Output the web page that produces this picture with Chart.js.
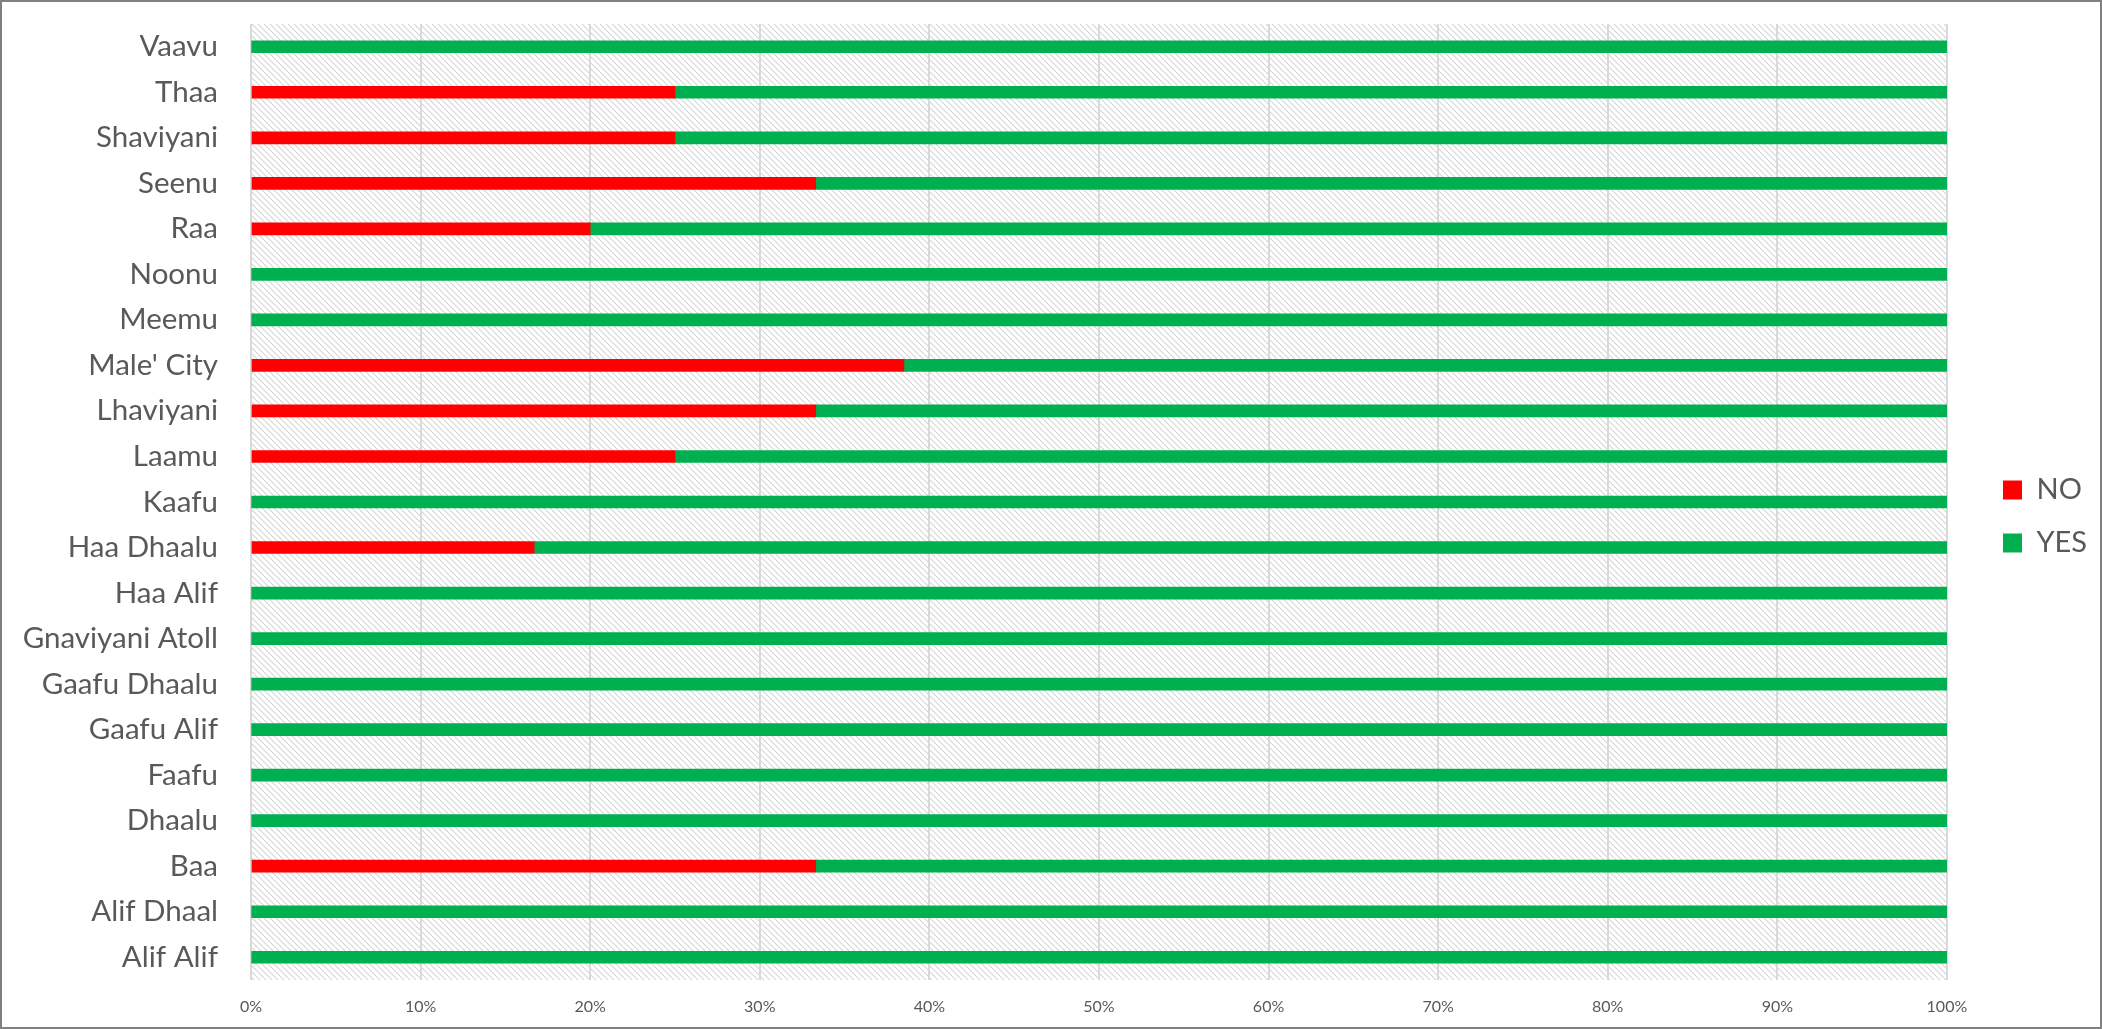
<!DOCTYPE html>
<html>
<head>
<meta charset="utf-8">
<script src="https://cdn.jsdelivr.net/npm/chart.js@4.4.1/dist/chart.umd.min.js"></script>
<style>
  html, body { margin: 0; padding: 0; background: #fff; }
  #wrap { width: 2102px; height: 1029px; }
</style>
</head>
<body>
<div id="wrap"><canvas id="atollChart"></canvas></div>
<script>
// listed bottom-to-top as in the sheet (axis is reversed below)
const atolls = ['Alif Alif', 'Alif Dhaal', 'Baa', 'Dhaalu', 'Faafu', 'Gaafu Alif', 'Gaafu Dhaalu',
  'Gnaviyani Atoll', 'Haa Alif', 'Haa Dhaalu', 'Kaafu', 'Laamu', 'Lhaviyani', "Male' City",
  'Meemu', 'Noonu', 'Raa', 'Seenu', 'Shaviyani', 'Thaa', 'Vaavu'];

const noShare  = [0, 0, 33.3, 0, 0, 0, 0, 0, 0, 16.7, 0, 25, 33.3, 38.5, 0, 0, 20, 33.3, 25, 25, 0];
const yesShare = [100, 100, 66.7, 100, 100, 100, 100, 100, 100, 83.3, 100, 75, 66.7, 61.5, 100, 100, 80, 66.7, 75, 75, 100];

const textGrey = '#595959';
const gridGrey = '#d9d9d9';

// where the legend swatches start (chart.js would put them closer to the plot)
const legendBoxX = 2003;
const legendShiftY = -10;

function hatchPattern(ctx) {
  const s = 6;
  const c = document.createElement('canvas');
  c.width = s; c.height = s;
  const p = c.getContext('2d');
  p.strokeStyle = '#d4d4d4';
  p.lineWidth = 1.1;
  p.beginPath();
  for (let k = -1; k <= 1; k++) {
    p.moveTo(k * s, 0);
    p.lineTo(k * s + s, s);
  }
  p.stroke();
  return ctx.createPattern(c, 'repeat');
}

const plotDecor = {
  id: 'plotDecor',
  beforeDraw(chart) {
    const {ctx, chartArea: a, width, height} = chart;
    ctx.save();
    ctx.fillStyle = '#fff';
    ctx.fillRect(0, 0, width, height);
    ctx.fillStyle = hatchPattern(ctx);
    ctx.fillRect(a.left, a.top, a.right - a.left, a.bottom - a.top);
    ctx.restore();
  },
  afterDraw(chart) {
    const {ctx, width, height} = chart;
    ctx.save();
    ctx.strokeStyle = '#808080';
    ctx.lineWidth = 2;
    ctx.strokeRect(1, 1, width - 2, height - 2);
    ctx.restore();
  }
};

const legendNudge = {
  id: 'legendNudge',
  afterLayout(chart) {
    const lg = chart.legend;
    const dx = legendBoxX - (lg.left + lg.options.labels.padding);
    lg.left += dx; lg.right += dx;
    lg.top += legendShiftY; lg.bottom += legendShiftY;
  }
};

const atollChart = new Chart(document.getElementById('atollChart'), {
  type: 'bar',
  data: {
    labels: atolls,
    datasets: [
      { label: 'NO', data: noShare, backgroundColor: '#ff0000', barThickness: 12 },
      { label: 'YES', data: yesShare, backgroundColor: '#00b050', barThickness: 12 }
    ]
  },
  options: {
    indexAxis: 'y',
    responsive: true,
    maintainAspectRatio: false,
    devicePixelRatio: 1,
    animation: false,
    layout: { padding: { top: 24, right: 37, bottom: 0, left: 0 } },
    scales: {
      x: {
        stacked: true,
        min: 0,
        max: 100,
        ticks: {
          stepSize: 10,
          padding: 17,
          color: textGrey,
          font: { family: 'Lato', size: 16 },
          callback: v => v + '%'
        },
        grid: { color: gridGrey, lineWidth: 2, drawTicks: false },
        border: { display: false },
        afterFit(scale) { scale.height = 49; }
      },
      y: {
        stacked: true,
        reverse: true,
        ticks: {
          padding: 33,
          color: textGrey,
          font: { family: 'Lato', size: 29.5 }
        },
        grid: { display: false, drawTicks: false },
        border: { display: false },
        afterFit(scale) {
          scale.width = 251;
          scale.paddingTop = 0;
          scale.paddingBottom = 0;
        }
      }
    },
    plugins: {
      legend: {
        position: 'right',
        labels: {
          boxWidth: 19,
          boxHeight: 19,
          padding: 24,
          color: textGrey,
          font: { family: 'Lato', size: 29 }
        }
      },
      tooltip: { enabled: false }
    }
  },
  plugins: [plotDecor, legendNudge]
});
</script>
</body>
</html>
